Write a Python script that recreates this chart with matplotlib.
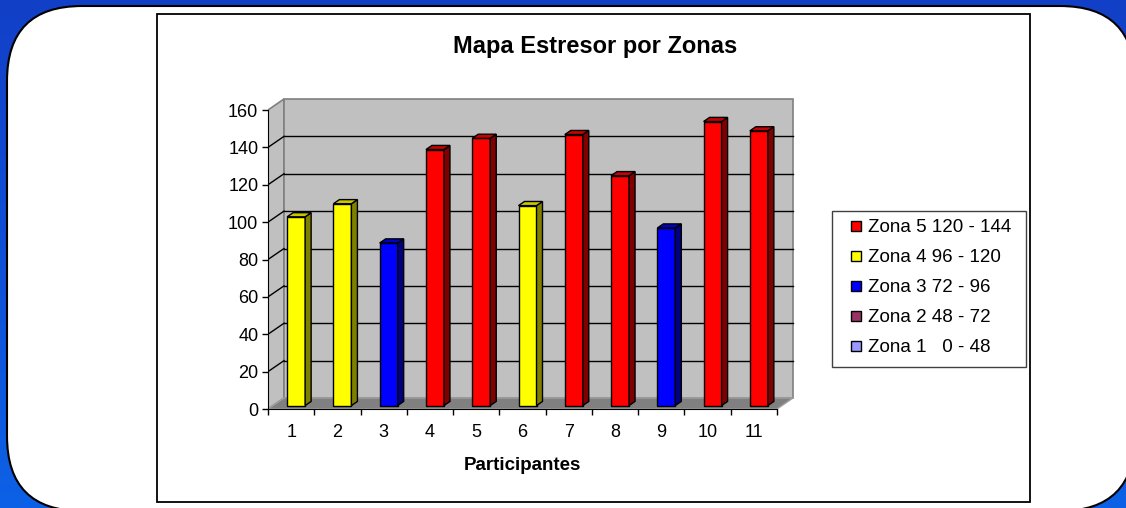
import numpy as np
import matplotlib
matplotlib.use("Agg")
import matplotlib.pyplot as plt
from matplotlib.patches import Polygon, Rectangle, FancyBboxPatch

plt.rcParams['font.family'] = ['Liberation Sans', 'DejaVu Sans']

# data
participantes = [str(i) for i in range(1, 12)]
valores = [101, 108, 87, 137, 143, 107, 145, 123, 95, 152, 147]

zonas = ["Zona 5 120 - 144", "Zona 4 96 - 120", "Zona 3 72 - 96",
         "Zona 2 48 - 72", "Zona 1   0 - 48"]
zona_min = [120, 96, 72, 48, 0]
zona_colores = ["#ff0000", "#ffff00", "#0000ff", "#993366", "#9999ff"]

yticks = list(range(0, 161, 20))


def color_zona(v):
    for lim, c in zip(zona_min, zona_colores):
        if v >= lim:
            return c
    return zona_colores[-1]


def oscurecer(c, f):
    r, g, b = matplotlib.colors.to_rgb(c)
    return (r * f, g * f, b * f)


W, H = 1126, 508
fig = plt.figure(figsize=(W / 100, H / 100), dpi=100)

# background: blue gradient + white rounded panel (pixel coords, y down)
bg = fig.add_axes([0, 0, 1, 1], zorder=0)
grad = np.linspace(0, 1, 256).reshape(-1, 1)
top = np.array([0.07, 0.25, 0.78])
bot = np.array([0.05, 0.38, 0.90])
img = top + grad[..., None] * (bot - top)
img = np.repeat(img, 2, axis=1)
bg.imshow(img, extent=(0, W, H, 0), aspect='auto')
bg.set_xlim(0, W)
bg.set_ylim(H, 0)
bg.axis('off')

r = 75
panel = FancyBboxPatch((7 + r, 6 + r), 1135 - 7 - 2 * r, 511 - 6 - 2 * r,
                       boxstyle="round,pad=%d,rounding_size=%d" % (r, r),
                       facecolor='white', edgecolor='black', linewidth=1.5)
bg.add_patch(panel)
bg.add_patch(Rectangle((157, 14), 1030 - 157, 502 - 14, facecolor='white',
                       edgecolor='black', linewidth=1.3))

bg.text(595, 47, "Mapa Estresor por Zonas", fontsize=17, fontweight='bold',
        ha='center', va='center')

# legend (drawn by hand to match the box padding)
bg.add_patch(Rectangle((832, 211), 1026 - 832, 367 - 211, facecolor='white',
                       edgecolor='#404040', linewidth=1))
for k, (lab, c) in enumerate(zip(zonas, zona_colores)):
    yc = 226 + 30 * k
    bg.add_patch(Rectangle((851, yc - 5), 10, 10, facecolor=c,
                           edgecolor='black', linewidth=1))
    bg.text(868, yc + 1, lab, fontsize=13.5, ha='left', va='center')

# main chart axes, front plane
px_x = (777 - 268) / 11
px_y = (409 - 110) / 160
xmax, ymax = 11.4, 166.5
ax = fig.add_axes([268 / W, (H - 409) / H, xmax * px_x / W, ymax * px_y / H],
                  zorder=1)
ax.set_xlim(0, xmax)
ax.set_ylim(0, ymax)
ax.patch.set_alpha(0)

n = len(valores)
ddx, ddy = 16 / px_x, 11 / px_y   # depth of the chart box
gris = '#c0c0c0'

# walls and floor
ax.add_patch(Polygon([(0, 0), (ddx, ddy), (ddx, 160 + ddy), (0, 160)],
                     closed=True, facecolor=gris, edgecolor='#808080',
                     linewidth=1.2, zorder=1))
ax.add_patch(Rectangle((ddx, ddy), n, 160, facecolor=gris,
                       edgecolor='#808080', linewidth=1.2, zorder=1))
ax.add_patch(Polygon([(0, 0), (n, 0), (n + ddx, ddy), (ddx, ddy)],
                     closed=True, facecolor='#808080', edgecolor='#a0a0a0',
                     linewidth=1, zorder=1.5))

# gridlines on back and side walls
for v in yticks[1:-1]:
    ax.plot([ddx, n + ddx], [v + ddy, v + ddy], color='black', lw=1, zorder=2)
    ax.plot([0, ddx], [v, v + ddy], color='black', lw=1, zorder=2)

# 3d columns
w = 18 / px_x
bd = 0.375
bdx, bdy = bd * ddx, bd * ddy
fx, fy = (1 - bd) / 2 * ddx, (1 - bd) / 2 * ddy
xs = np.arange(n) + 0.5 + fx
colores = [color_zona(v) for v in valores]

ax.bar(xs, valores, width=w, bottom=fy, color=colores, edgecolor='black',
       linewidth=1, zorder=5)
for x, v, c in zip(xs, valores, colores):
    x0, x1 = x - w / 2, x + w / 2
    t = v + fy
    ax.add_patch(Polygon([(x1, fy), (x1 + bdx, fy + bdy), (x1 + bdx, t + bdy),
                          (x1, t)], closed=True, facecolor=oscurecer(c, 0.5),
                         edgecolor='black', linewidth=1, zorder=5))
    ax.add_patch(Polygon([(x0, t), (x1, t), (x1 + bdx, t + bdy),
                          (x0 + bdx, t + bdy)], closed=True,
                         facecolor=oscurecer(c, 0.78), edgecolor='black',
                         linewidth=1, zorder=5))

# axes
for s in ['top', 'right']:
    ax.spines[s].set_visible(False)
ax.spines['left'].set_bounds(0, 160)
ax.spines['bottom'].set_bounds(0, n)
ax.spines['left'].set_zorder(6)
ax.spines['bottom'].set_zorder(6)

ax.set_yticks(yticks)
ax.set_yticklabels([str(v) for v in yticks], fontsize=13)
ax.set_xticks(range(n + 1))
ax.set_xticklabels([])
ax.set_xticks(np.arange(n) + 0.5, minor=True)
ax.set_xticklabels(participantes, minor=True, fontsize=13)
ax.tick_params(axis='x', which='major', length=4, width=1, direction='out')
ax.tick_params(axis='x', which='minor', length=0, pad=10.5)
ax.tick_params(axis='y', length=4, width=1, direction='out', pad=3)

ax.text(n / 2, -56 / px_y, "Participantes", fontsize=13.5, fontweight='bold',
        ha='center', va='center')

fig.savefig("out.png", dpi=100)
